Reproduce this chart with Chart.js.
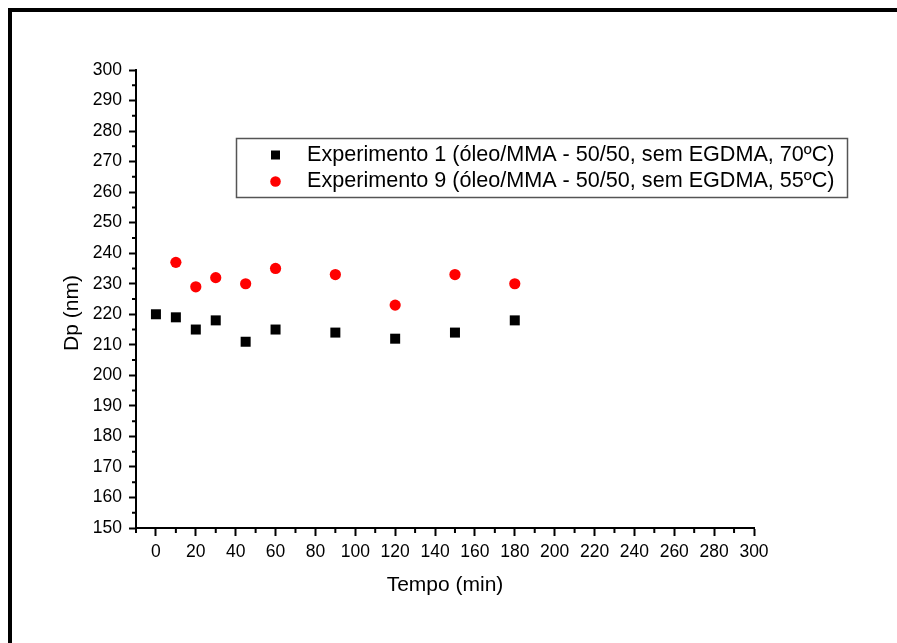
<!DOCTYPE html>
<html>
<head>
<meta charset="utf-8">
<script src="https://cdn.jsdelivr.net/npm/chart.js@4.4.1/dist/chart.umd.min.js"></script>
<style>
  html, body { margin: 0; padding: 0; background: #fff; }
  #wrap { position: relative; width: 897px; height: 643px; overflow: hidden; }
  #moldura { position: absolute; left: 8px; top: 8px; width: 1000px; height: 1000px; border-top: 4px solid #000; border-left: 4px solid #000; pointer-events: none; }
  canvas { position: absolute; left: 0; top: 0; }
</style>
</head>
<body>
<div id="wrap">
  <canvas id="grafico" width="897" height="643"></canvas>
  <div id="moldura"></div>
</div>
<script>
// dados
const tempoExp1 = [0, 10, 20, 30, 45, 60, 90, 120, 150, 180];
const dpExp1 = [220, 219, 215, 218, 211, 215, 214, 212, 214, 218];
const tempoExp9 = [10, 20, 30, 45, 60, 90, 120, 150, 180];
const dpExp9 = [237, 229, 232, 230, 235, 233, 223, 233, 230];
const rotulos = [
  'Experimento 1 (óleo/MMA - 50/50, sem EGDMA, 70ºC)',
  'Experimento 9 (óleo/MMA - 50/50, sem EGDMA, 55ºC)'
];

const fonte = 'Arial, "Liberation Sans", sans-serif';
Chart.defaults.font.family = fonte;
Chart.defaults.color = '#000';

const ehMaiorX = v => v >= 0 && v % 20 === 0;
const ehMaiorY = v => v % 10 === 0;

// ticks menores (mais curtos que os principais)
const marcasMenores = {
  id: 'marcasMenores',
  afterDraw(chart) {
    const { ctx, scales: { x, y } } = chart;
    ctx.save();
    ctx.strokeStyle = '#000';
    ctx.lineWidth = 2;
    ctx.beginPath();
    x.ticks.forEach(t => {
      if (!ehMaiorX(t.value)) {
        const px = x.getPixelForValue(t.value);
        ctx.moveTo(px, x.top);
        ctx.lineTo(px, x.top + 5);
      }
    });
    y.ticks.forEach(t => {
      if (!ehMaiorY(t.value)) {
        const py = y.getPixelForValue(t.value);
        ctx.moveTo(y.right, py);
        ctx.lineTo(y.right - 4, py);
      }
    });
    ctx.stroke();
    ctx.restore();
  }
};

const tituloY = {
  id: 'tituloY',
  afterDraw(chart) {
    const ctx = chart.ctx;
    ctx.save();
    ctx.translate(72, 313);
    ctx.rotate(-Math.PI / 2);
    ctx.font = `21px ${fonte}`;
    ctx.fillStyle = '#000';
    ctx.textAlign = 'center';
    ctx.textBaseline = 'middle';
    ctx.fillText('Dp (nm)', 0, 0);
    ctx.restore();
  }
};

const legendaQuadro = {
  id: 'legendaQuadro',
  afterDraw(chart) {
    const ctx = chart.ctx;
    ctx.save();
    ctx.fillStyle = '#fff';
    ctx.fillRect(236.5, 138.5, 611, 59);
    ctx.strokeStyle = '#555';
    ctx.lineWidth = 1.5;
    ctx.strokeRect(236.5, 138.5, 611, 59);
    chart.data.datasets.forEach((ds, i) => {
      const yc = 155 + i * 26.5;
      ctx.fillStyle = ds.backgroundColor;
      if (ds.pointStyle === 'rect') {
        ctx.fillRect(271, yc - 4.5, 9, 9);
      } else {
        ctx.beginPath();
        ctx.arc(275.5, yc, 5.3, 0, Math.PI * 2);
        ctx.fill();
      }
      ctx.fillStyle = '#000';
      ctx.font = `21.6px ${fonte}`;
      ctx.textBaseline = 'middle';
      ctx.fillText(ds.label, 307, yc);
    });
    ctx.restore();
  }
};

new Chart(document.getElementById('grafico').getContext('2d'), {
  type: 'scatter',
  data: {
    datasets: [{
      label: rotulos[0],
      data: tempoExp1.map((t, i) => ({ x: t, y: dpExp1[i] })),
      pointStyle: 'rect',
      pointRadius: 7.07,
      pointHoverRadius: 7.07,
      backgroundColor: '#000',
      borderColor: '#000',
      borderWidth: 0
    }, {
      label: rotulos[1],
      data: tempoExp9.map((t, i) => ({ x: t, y: dpExp9[i] })),
      pointStyle: 'circle',
      pointRadius: 5.6,
      pointHoverRadius: 5.6,
      backgroundColor: '#ff0000',
      borderColor: '#ff0000',
      borderWidth: 0
    }]
  },
  options: {
    responsive: false,
    animation: false,
    layout: { padding: { top: 70, right: 143, left: 0, bottom: 0 } },
    plugins: {
      legend: { display: false },
      tooltip: { enabled: false }
    },
    scales: {
      x: {
        type: 'linear',
        min: -10,
        max: 300,
        afterFit: s => { s.height = 115; },
        border: { display: true, color: '#000', width: 2 },
        grid: {
          drawOnChartArea: false,
          drawTicks: true,
          tickLength: 8,
          tickWidth: 2,
          tickColor: c => (c.tick && ehMaiorX(c.tick.value)) ? '#000' : 'rgba(0,0,0,0)'
        },
        ticks: {
          stepSize: 10,
          autoSkip: false,
          maxRotation: 0,
          padding: 6,
          font: { size: 17.5 },
          color: '#000',
          callback: v => ehMaiorX(v) ? v : ''
        },
        title: {
          display: true,
          text: 'Tempo (min)',
          font: { size: 21 },
          color: '#000',
          padding: { top: 0, bottom: 45 }
        }
      },
      y: {
        type: 'linear',
        min: 150,
        max: 300,
        afterFit: s => { s.width = 136; },
        border: { display: true, color: '#000', width: 2 },
        grid: {
          drawOnChartArea: false,
          drawTicks: true,
          tickLength: 7,
          tickWidth: 2,
          tickColor: c => (c.tick && ehMaiorY(c.tick.value)) ? '#000' : 'rgba(0,0,0,0)'
        },
        ticks: {
          stepSize: 5,
          autoSkip: false,
          padding: 7,
          font: { size: 17.5 },
          color: '#000',
          callback: v => ehMaiorY(v) ? v : ''
        }
      }
    }
  },
  plugins: [marcasMenores, tituloY, legendaQuadro]
});
</script>
</body>
</html>
